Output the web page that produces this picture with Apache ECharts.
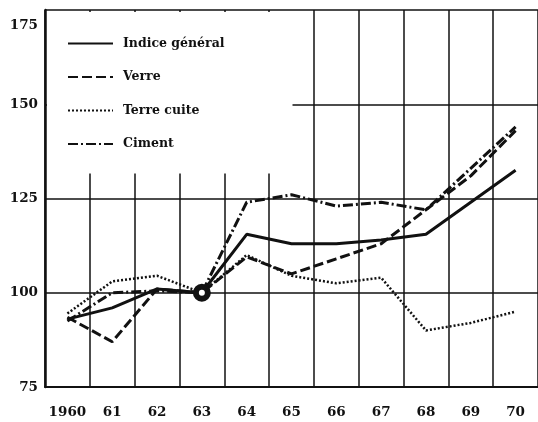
<!DOCTYPE html>
<html>
<head>
<meta charset="utf-8">
<script src="https://cdn.jsdelivr.net/npm/echarts@6/dist/echarts.min.js"></script>
<style>
  html, body { margin: 0; padding: 0; background: #fff; }
  #main { width: 538px; height: 422px; }
</style>
</head>
<body>
<div id="main"></div>
<script>
// années (1963 = 100)
var years = ['1960', '61', '62', '63', '64', '65', '66', '67', '68', '69', '70'];

var indiceGeneral = [93, 96, 101, 100, 115.5, 113, 113, 114, 115.5, 124, 132.5];
var verre = [93.5, 87, 101, 100, 109.5, 105, 109, 113, 122, 131, 143];
var terreCuite = [94.5, 103, 104.5, 100, 110, 104.5, 102.5, 104, 90, 92, 95];
var ciment = [92.5, 100, 100.5, 100, 124, 126, 123, 124, 122, 133, 144];

var yTicks = [75, 100, 125, 150, 175];
var baseIndex = 3; // 1963, année de base

var ink = '#111';
var axisFont = '"DejaVu Serif", serif';

var myChart = echarts.init(document.getElementById('main'));

// indice général : point de base marqué d'un cercle
var indiceData = indiceGeneral.map(function (v, i) {
    if (i === baseIndex) {
        return {
            value: v,
            symbol: 'circle',
            symbolSize: 12,
            itemStyle: {color: '#fff', borderColor: ink, borderWidth: 6}
        };
    }
    return v;
});

function lineSeries(name, data, width, dash, z) {
    return {
        name: name,
        type: 'line',
        data: data,
        symbol: 'none',
        z: z,
        lineStyle: {color: ink, width: width, type: dash},
        itemStyle: {color: ink}
    };
}

var indiceSeries = lineSeries('Indice général', indiceData, 3, 'solid', 5);
indiceSeries.showSymbol = true;

var labelStyle = {fontFamily: axisFont, fontWeight: 'bold', fontSize: 13.5, color: ink};

var option = {
    animation: false,
    backgroundColor: '#fff',
    grid: {left: 45, right: -2, top: 10, bottom: 35},
    legend: {
        orient: 'vertical',
        left: 47,
        top: 12,
        padding: [25, 68, 23, 20],
        backgroundColor: '#fff',
        itemWidth: 45,
        itemHeight: 14,
        itemGap: 20.5,
        itemStyle: {color: 'rgba(0,0,0,0)', borderWidth: 0},
        textStyle: {
            fontFamily: axisFont, fontWeight: 'bold', fontSize: 12.5, color: ink,
            padding: [0, 0, 0, 5]
        },
        data: ['Indice général', 'Verre', 'Terre cuite', 'Ciment']
    },
    xAxis: {
        type: 'category',
        data: years,
        boundaryGap: true,
        axisLine: {lineStyle: {color: ink, width: 2}},
        axisTick: {show: false},
        axisLabel: Object.assign({interval: 0, margin: 18}, labelStyle),
        splitLine: {show: true, interval: 0, lineStyle: {color: ink, width: 1.5}}
    },
    yAxis: {
        type: 'value',
        min: yTicks[0],
        max: yTicks[yTicks.length - 1],
        interval: 25,
        axisLine: {show: true, lineStyle: {color: ink, width: 2.5}},
        axisTick: {show: false},
        axisLabel: Object.assign({
            margin: 7,
            formatter: function (v) {
                return v === yTicks[yTicks.length - 1] ? '{top|' + v + '}' : String(v);
            },
            rich: {top: Object.assign({padding: [30, 0, 0, 0]}, labelStyle)}
        }, labelStyle),
        splitLine: {show: true, lineStyle: {color: ink, width: 1.5}}
    },
    series: [
        indiceSeries,
        lineSeries('Verre', verre, 3, [10, 4], 4),
        lineSeries('Terre cuite', terreCuite, 2.5, [2, 2], 3),
        lineSeries('Ciment', ciment, 3, [10, 3, 2, 3], 4)
    ]
};

myChart.setOption(option);
</script>
</body>
</html>
